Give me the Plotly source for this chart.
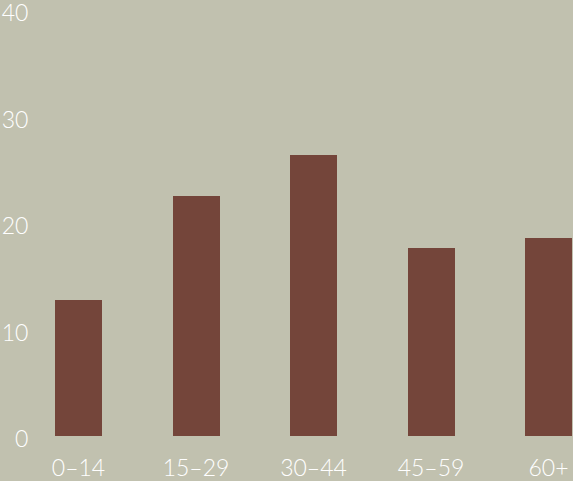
import plotly.graph_objects as go

categories = ["0–14", "15–29", "30–44", "45–59", "60+"]
values = [12.8, 22.5, 26.4, 17.7, 18.6]
y_ticks = [0, 10, 20, 30, 40]

BG = "#c1c1af"
BAR = "#74453a"
FONT = dict(family="Lato", size=23, color="white", weight=300)

fig = go.Figure(go.Bar(x=categories, y=values, marker=dict(color=BAR, line=dict(width=0)), width=0.4))
fig.update_layout(
    width=573, height=481,
    paper_bgcolor=BG, plot_bgcolor=BG,
    margin=dict(l=34, r=0, t=10, b=45),
    font=FONT,
    showlegend=False,
    bargap=0,
)
fig.update_xaxes(type="category", range=[-0.3787, 4.2085], showgrid=False, zeroline=False,
                 showline=False, ticks="outside", ticklen=11, tickcolor="rgba(0,0,0,0)", tickfont=FONT,
                 ticklabeloverflow="allow", automargin=False)
fig.update_yaxes(range=[0, 40.02], tickvals=y_ticks, showgrid=False, zeroline=False, showline=False,
                 ticks="outside", ticklen=0, tickcolor="rgba(0,0,0,0)", tickfont=FONT,
                 ticklabeloverflow="allow", automargin=False, ticklabelshift=3)
fig.write_html("out.html", config={"displayModeBar": False},
               post_script="document.body.style.margin='0';document.body.style.background='%s';" % BG)
